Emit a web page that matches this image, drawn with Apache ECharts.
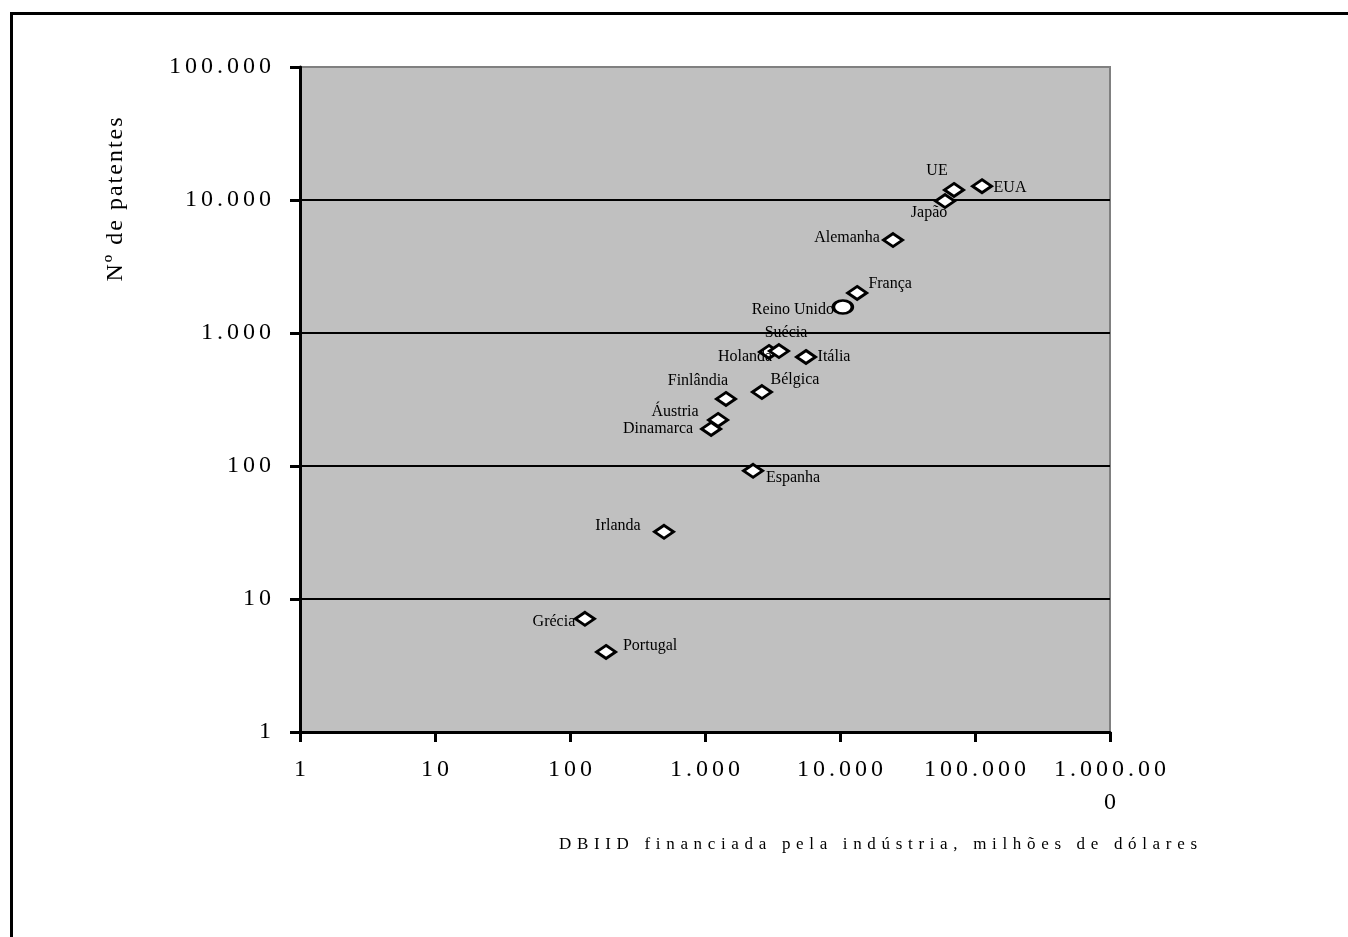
<!DOCTYPE html>
<html>
<head>
<meta charset="utf-8">
<script src="https://cdn.jsdelivr.net/npm/echarts@6/dist/echarts.min.js"></script>
<style>
html,body{margin:0;padding:0;background:#fff;}
#chart{width:1348px;height:937px;}
</style>
</head>
<body>
<div id="chart"></div>
<script>
// ---- data ----
const countries = ['UE','EUA','Japão','Alemanha','França','Reino Unido','Holanda','Suécia','Itália','Finlândia','Bélgica','Áustria','Dinamarca','Espanha','Irlanda','Grécia','Portugal'];
const rdFunding = [69900,112700,60000,24700,13400,10500,2980,3530,5600,1430,2640,1250,1110,2270,497,129,185];
const patents   = [11900,12700,9820,5000,2000,1570,720,732,660,319,360,222,190,92,32,7.1,4.0];
const xTickLabels = ['1','10','100','1.000','10.000','100.000','1.000.00\n0'];
const yTickLabels = ['1','10','100','1.000','10.000','100.000'];

// ---- label placement (style only) ----
const labelOffsets = {
  'UE':[-17,-19],'EUA':[28,2],'Japão':[-16,12],'Alemanha':[-46,-2],'França':[33,-9],
  'Reino Unido':[-50,3],'Holanda':[-24,5],'Suécia':[7,-18],'Itália':[28,0],
  'Finlândia':[-28,-18],'Bélgica':[33,-12],'Áustria':[-43,-8],'Dinamarca':[-53,0],
  'Espanha':[40,7],'Irlanda':[-46,-6],'Grécia':[-31,3],'Portugal':[44,-6]
};
const circleItems = ['Reino Unido'];

const SP = '\u2006';
function spaced(s, sep){ sep = sep || SP; return s.split('\n').map(l => l.split('').join(sep)).join('\n'); }
function tickText(labels, v){
  const i = Math.round(Math.log10(v));
  return labels[i] !== undefined ? spaced(labels[i]) : '';
}

const data = countries.map((c,i) => ({
  name: c,
  value: [rdFunding[i], patents[i]],
  symbol: circleItems.indexOf(c) >= 0 ? 'circle' : 'diamond',
  label: { offset: labelOffsets[c] }
}));

const serif = 'Liberation Serif';
const chart = echarts.init(document.getElementById('chart'));
chart.setOption({
  animation: false,
  backgroundColor: '#ffffff',
  graphic: [{
    type: 'rect', left: 9, top: 11,
    shape: { width: 1400, height: 1000 },
    style: { fill: 'none', stroke: '#000', lineWidth: 3 },
    silent: true, z: -10
  }],
  grid: {
    left: 300, right: 238, top: 67, bottom: 205,
    show: true, backgroundColor: '#c0c0c0', borderColor: '#808080', borderWidth: 2
  },
  xAxis: {
    type: 'log', logBase: 10, min: 1, max: 1000000,
    name: spaced('DBIID financiada pela indústria, milhões de dólares', '\u2004'),
    nameLocation: 'middle', nameGap: 104,
    nameTextStyle: { fontFamily: serif, fontSize: 17, color: '#000', padding: [0,0,0,346] },
    axisLine: { show: true, lineStyle: { color: '#000', width: 3 } },
    axisTick: { show: true, inside: false, length: 10, lineStyle: { color: '#000', width: 3 } },
    minorTick: { show: false },
    axisLabel: {
      fontFamily: serif, fontSize: 24, color: '#000', margin: 21, lineHeight: 33,
      formatter: v => tickText(xTickLabels, v)
    },
    splitLine: { show: false }
  },
  yAxis: {
    type: 'log', logBase: 10, min: 1, max: 100000,
    name: spaced('Nº de patentes', '\u200A'),
    nameLocation: 'middle', nameGap: 172, nameRotate: 90,
    nameTextStyle: { fontFamily: serif, fontSize: 24, color: '#000', padding: [0,0,0,400] },
    axisLine: { show: true, lineStyle: { color: '#000', width: 3 } },
    axisTick: { show: true, inside: false, length: 10, lineStyle: { color: '#000', width: 3 } },
    axisLabel: {
      fontFamily: serif, fontSize: 24, color: '#000', margin: 29,
      formatter: v => tickText(yTickLabels, v)
    },
    splitLine: { show: true, showMinLine: false, showMaxLine: false, lineStyle: { color: '#000', width: 2 } }
  },
  series: [{
    type: 'scatter',
    symbolSize: [19, 13],
    itemStyle: { color: '#ffffff', borderColor: '#000', borderWidth: 3, opacity: 1 },
    label: {
      show: true, position: 'inside', formatter: '{b}',
      fontFamily: serif, fontSize: 16, color: '#000'
    },
    emphasis: { disabled: true },
    data: data
  }]
});
</script>
</body>
</html>
